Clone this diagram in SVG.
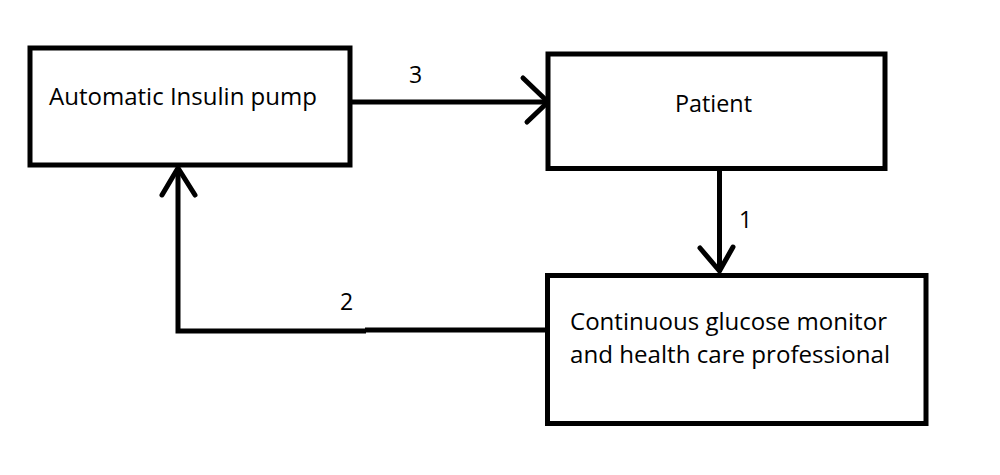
<svg xmlns="http://www.w3.org/2000/svg" width="1000" height="475" viewBox="0 0 1000 475">
<style>
.box{fill:#fff;stroke:#000;stroke-width:5}
.t{font-family:"Open Sans","Liberation Sans",sans-serif;font-size:24px;fill:#000}
.lbl{font-family:"Open Sans","Liberation Sans",sans-serif;font-size:23px;fill:#000}
.c{fill:none;stroke:#000;stroke-width:5}
.h{fill:none;stroke:#000;stroke-width:5;stroke-linecap:round;stroke-linejoin:miter}
</style>
<rect width="1000" height="475" fill="#fff"/>
<g id="connectors">
<path class="c" d="M350 102 H546"/>
<path class="h" d="M523 78 L548 102 L527 122"/>
<text class="lbl" x="409" y="83">3</text>
<path class="c" d="M719.5 168 V272"/>
<path class="h" d="M700 248 L719.5 271 L733 247"/>
<text class="lbl" x="739" y="228">1</text>
<path class="c" d="M546 330 H365"/>
<path class="c" d="M366 331 H178 V168"/>
<path class="h" d="M162 195 L178 168 L195 195"/>
<text class="lbl" x="340" y="310">2</text>
</g>
<g id="node-pump">
<rect class="box" x="30" y="48" width="320" height="117"/>
<text class="t" x="49" y="105" textLength="268" lengthAdjust="spacingAndGlyphs">Automatic Insulin pump</text>
</g>
<g id="node-patient">
<rect class="box" x="548" y="54" width="337" height="114.5"/>
<text class="t" x="675" y="111.5" textLength="77" lengthAdjust="spacingAndGlyphs">Patient</text>
</g>
<g id="node-monitor">
<rect class="box" x="547.5" y="275.5" width="378.5" height="148"/>
<text class="t" x="570" y="330" textLength="317" lengthAdjust="spacingAndGlyphs">Continuous glucose monitor</text>
<text class="t" x="570" y="363" textLength="320" lengthAdjust="spacingAndGlyphs">and health care professional</text>
</g>
</svg>
